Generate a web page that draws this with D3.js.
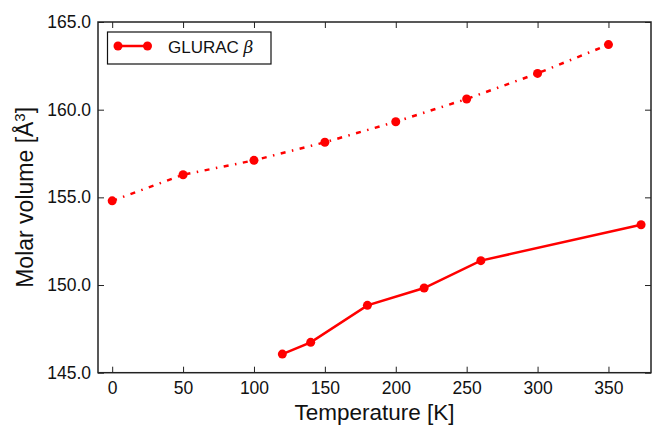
<!DOCTYPE html>
<html>
<head>
<meta charset="utf-8">
<script src="https://cdn.jsdelivr.net/npm/d3@7"></script>
<style>
  body { margin: 0; background: #fff; }
  svg { font-family: "Liberation Sans", Arial, sans-serif; }
</style>
</head>
<body>
<svg width="652" height="428"></svg>
<script>
// upper series (dash-dot)
var tempUpper = [0, 50, 100, 150, 200, 250, 300, 350]
var volUpper = [154.80, 156.29, 157.11, 158.14, 159.31, 160.61, 162.07, 163.71]

// lower series (solid)
var tempLower = [120, 140, 180, 220, 260, 373]
var volLower = [146.06, 146.73, 148.84, 149.83, 151.39, 153.44]

var xTicks = [0, 50, 100, 150, 200, 250, 300, 350]
var yTicks = [145, 150, 155, 160, 165]
var legendLabel = "GLURAC "

var svg = d3.select("svg")

// plot frame (window.top is reserved, so other names)
var plotLeft = 98, plotRight = 651, plotTop = 22, plotBottom = 372.7

var x = d3.scaleLinear().domain([-10, 380]).range([plotLeft, plotRight])
var y = d3.scaleLinear().domain([145, 165]).range([plotBottom, plotTop])

var red = "#ff0000"

// ticks inside, on all four sides
svg.append("g")
    .attr("transform", "translate(0," + plotBottom + ")")
    .call(d3.axisBottom(x).tickValues(xTicks).tickSizeInner(-6).tickSizeOuter(0).tickPadding(9))
svg.append("g")
    .attr("transform", "translate(0," + plotTop + ")")
    .call(d3.axisTop(x).tickValues(xTicks).tickSizeInner(-6).tickSizeOuter(0).tickFormat(""))
svg.append("g")
    .attr("transform", "translate(" + plotLeft + ",0)")
    .call(d3.axisLeft(y).tickValues(yTicks).tickSizeInner(-6).tickSizeOuter(0).tickPadding(7).tickFormat(d3.format(".1f")))
svg.append("g")
    .attr("transform", "translate(" + plotRight + ",0)")
    .call(d3.axisRight(y).tickValues(yTicks).tickSizeInner(-6).tickSizeOuter(0).tickFormat(""))

svg.selectAll(".domain").remove()
svg.selectAll(".tick line").attr("stroke", "#222").attr("stroke-width", 1)
svg.selectAll(".tick text")
    .attr("font-size", 17.5)
    .attr("font-family", "Liberation Sans, Arial, sans-serif")
    .attr("fill", "#111")

svg.append("rect")
    .attr("x", plotLeft).attr("y", plotTop)
    .attr("width", plotRight - plotLeft).attr("height", plotBottom - plotTop)
    .attr("fill", "none").attr("stroke", "#222").attr("stroke-width", 1.5)

var line = d3.line()
    .x(function(d) { return x(d[0]) })
    .y(function(d) { return y(d[1]) })

var upper = d3.zip(tempUpper, volUpper)
var lower = d3.zip(tempLower, volLower)

svg.append("path")
    .datum(upper)
    .attr("d", line)
    .attr("fill", "none")
    .attr("stroke", red)
    .attr("stroke-width", 2.5)
    .attr("stroke-dasharray", "5,6.5,1.5,6.5")

svg.append("path")
    .datum(lower)
    .attr("d", line)
    .attr("fill", "none")
    .attr("stroke", red)
    .attr("stroke-width", 2.5)

svg.append("g").selectAll("circle")
    .data(upper.concat(lower))
    .enter().append("circle")
    .attr("cx", function(d) { return x(d[0]) })
    .attr("cy", function(d) { return y(d[1]) })
    .attr("r", 4.5)
    .attr("fill", red)

// legend
var lg = svg.append("g")
lg.append("rect")
    .attr("x", 107.5).attr("y", 32)
    .attr("width", 163.5).attr("height", 32)
    .attr("fill", "#fff").attr("stroke", "#111").attr("stroke-width", 1.2)
lg.append("line")
    .attr("x1", 118).attr("x2", 147.5).attr("y1", 46).attr("y2", 46)
    .attr("stroke", red).attr("stroke-width", 2.5)
lg.selectAll("circle")
    .data([118, 147.5])
    .enter().append("circle")
    .attr("cx", function(d) { return d }).attr("cy", 46).attr("r", 4.5).attr("fill", red)
var lt = lg.append("text")
    .attr("x", 168).attr("y", 52.5)
    .attr("font-size", 17)
    .attr("fill", "#111")
    .text(legendLabel)
lt.append("tspan")
    .attr("font-style", "italic")
    .attr("font-family", "DejaVu Serif, serif")
    .text("β")

// axis titles
svg.append("text")
    .attr("x", (plotLeft + plotRight) / 2).attr("y", 420)
    .attr("text-anchor", "middle")
    .attr("font-size", 22.5)
    .attr("fill", "#111")
    .text("Temperature [K]")

svg.append("text")
    .attr("transform", "translate(33," + (plotTop + plotBottom) / 2 + ") rotate(-90)")
    .attr("text-anchor", "middle")
    .attr("font-size", 23)
    .attr("fill", "#111")
    .html("Molar volume [Å<tspan baseline-shift='super' font-size='15'>3</tspan>]")
</script>
</body>
</html>
